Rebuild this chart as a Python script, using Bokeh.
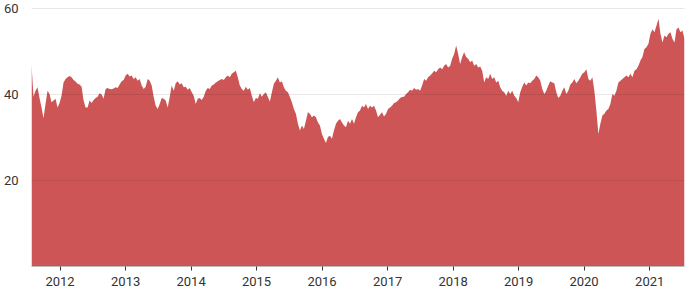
import pandas as pd
from bokeh.plotting import figure
from bokeh.models import ColumnDataSource, FixedTicker, Range1d, DatetimeTickFormatter
from bokeh.embed import file_html
from bokeh.resources import INLINE

start_date = "2011-07-26"
end_date = "2021-07-14"

values = [
    # 2011-07 .. 2013-01
    47.1, 39.5, 40.9, 41.7, 39.2, 37.0, 34.5, 37.8, 40.9, 40.1, 38.2, 38.6, 39.0, 37.0, 38.0, 39.7,
    42.8, 43.6, 44.0, 44.3, 44.0, 43.4, 43.0, 42.5, 42.3, 41.8, 38.6, 37.0, 37.0, 38.6, 38.0, 38.7,
    39.2, 39.5, 40.3, 40.0, 39.0, 41.3, 41.5, 41.3, 41.2, 41.4, 41.7, 41.5, 42.3, 43.1, 43.4,
    # 2013 .. 2014
    44.4, 44.8, 44.2, 44.4, 43.6, 44.0, 43.2, 43.6, 42.1, 41.3, 41.8, 43.6, 43.2, 42.1, 39.4, 37.4,
    36.6, 37.8, 39.2, 39.0, 38.6, 37.0, 39.4, 42.1, 40.9, 42.6, 43.1, 42.3, 42.6, 41.7, 41.8, 41.1,
    41.5, 40.5, 39.7, 37.8, 39.0, 39.2, 38.7, 39.5, 40.9, 41.5, 41.3, 42.1, 42.3, 42.8, 43.1, 43.4,
    # 2014 .. 2016
    43.6, 43.4, 44.0, 44.4, 44.0, 44.8, 45.2, 45.5, 44.0, 42.1, 41.3, 40.9, 41.8, 41.1, 41.5, 39.7,
    38.2, 39.2, 39.0, 40.3, 39.5, 40.1, 40.5, 39.4, 38.4, 40.5, 42.5, 43.2, 44.0, 42.8, 43.1, 41.7,
    40.9, 40.5, 39.4, 38.2, 36.6, 35.5, 33.2, 31.6, 32.8, 32.0, 33.9, 35.9, 35.5, 34.7, 35.1,
    # 2016 .. 2017
    34.7, 33.5, 32.8, 30.8, 29.7, 28.7, 30.1, 30.4, 29.7, 31.6, 33.2, 33.9, 34.3, 33.5, 32.8, 32.4,
    33.9, 33.2, 34.3, 33.2, 34.7, 35.9, 36.3, 37.4, 37.0, 37.8, 36.6, 37.4, 37.0, 37.4, 36.3, 34.7,
    35.3, 35.9, 34.9, 35.5, 36.6, 37.0, 37.4, 38.0, 38.2, 38.6, 39.2, 39.4, 39.5, 40.1, 40.5, 41.1,
    # 2017 .. 2019
    40.9, 41.5, 41.1, 41.3, 40.9, 42.1, 43.6, 43.2, 44.0, 44.4, 44.9, 45.5, 45.2, 45.9, 46.3, 45.9,
    46.7, 47.1, 46.3, 46.7, 48.3, 49.4, 51.4, 49.4, 47.1, 48.7, 49.8, 48.7, 48.3, 47.5, 47.9, 46.7,
    47.1, 46.3, 46.5, 45.5, 42.8, 44.0, 43.6, 44.8, 43.6, 44.0, 42.8, 43.2, 41.7, 40.9, 40.5, 39.7,
    # 2019 .. 2020
    40.9, 40.1, 40.9, 39.7, 39.2, 38.2, 40.5, 41.8, 42.8, 42.1, 42.8, 42.6, 43.2, 43.6, 44.4, 44.0,
    43.2, 41.3, 40.1, 40.9, 42.1, 43.1, 42.8, 42.6, 40.5, 39.2, 39.7, 40.9, 41.7, 40.1, 40.9, 42.3,
    42.8, 43.6, 42.6, 43.2, 44.0, 44.8, 45.2, 45.9, 43.6, 43.2, 44.0, 40.9, 36.3, 30.8, 33.2,
    # 2020 .. 2021
    35.1, 35.5, 36.3, 36.6, 37.8, 40.1, 39.7, 40.9, 42.8, 43.2, 43.6, 44.0, 44.4, 44.0, 44.8, 44.0,
    45.5, 45.9, 46.7, 47.9, 48.7, 50.6, 51.0, 51.8, 54.1, 55.2, 54.5, 56.0, 57.6, 54.1, 52.1, 53.7,
    53.3, 54.1, 54.5, 52.9, 52.1, 55.2, 55.6, 54.5, 54.9, 52.9,
]

tick_years = [2012, 2013, 2014, 2015, 2016, 2017, 2018, 2019, 2020, 2021]
y_ticks = [20, 40, 60]

dates = pd.date_range(start_date, end_date, periods=len(values))
source = ColumnDataSource(dict(date=dates, value=values))

p = figure(
    width=700, height=300,
    x_axis_type="datetime",
    output_backend="svg", toolbar_location=None,
    min_border_left=31, min_border_right=16, min_border_top=4, min_border_bottom=34,
    x_range=Range1d(dates[0], dates[-1]),
    y_range=Range1d(0, 60.93),
)
p.outline_line_color = None
p.background_fill_color = "white"
p.border_fill_color = "white"

p.varea(x="date", y1=0, y2="value", source=source, fill_color="#cd5555", fill_alpha=1.0)

# y axis
p.yaxis.ticker = FixedTicker(ticks=y_ticks)
p.yaxis.axis_line_color = None
p.yaxis.major_tick_line_color = None
p.yaxis.minor_tick_line_color = None
p.yaxis.major_label_text_font = "Roboto"
p.yaxis.major_label_text_font_size = "13px"
p.yaxis.major_label_text_color = "#333333"
p.yaxis.major_label_standoff = 7

# x axis
tick_ms = [pd.Timestamp(f"{y}-01-01").value / 1e6 for y in tick_years]
p.xaxis.ticker = FixedTicker(ticks=tick_ms)
p.xaxis.formatter = DatetimeTickFormatter(years="%Y", months="%Y", days="%Y")
p.xaxis.axis_line_color = "#bbbbbb"
p.xaxis.major_tick_line_color = "#333333"
p.xaxis.major_tick_out = 4
p.xaxis.major_tick_in = 0
p.xaxis.minor_tick_line_color = None
p.xaxis.major_label_text_font = "Roboto"
p.xaxis.major_label_text_font_size = "13px"
p.xaxis.major_label_text_color = "#333333"
p.xaxis.major_label_standoff = 6

# grid
p.xgrid.grid_line_color = None
p.ygrid.grid_line_color = "black"
p.ygrid.grid_line_alpha = 0.09
p.ygrid.level = "overlay"

open("out.html", "w").write(file_html(p, INLINE))
